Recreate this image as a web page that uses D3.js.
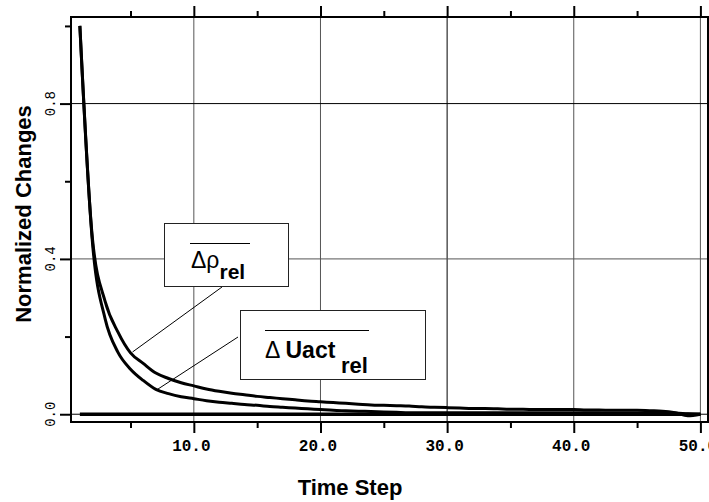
<!DOCTYPE html>
<html>
<head>
<meta charset="utf-8">
<script src="https://cdn.jsdelivr.net/npm/d3@7"></script>
<style>
  html, body { margin: 0; padding: 0; background: #fff; }
  svg { display: block; }
</style>
</head>
<body>
<div id="chart"></div>
<script>
// ── Data ─────────────────────────────────────────────────────
const timeSteps = [1, 2, 3, 4, 5, 6, 7, 8, 9, 10,
                   11, 12, 13, 14, 15, 16, 17, 18, 19, 20,
                   21, 22, 23, 24, 25, 26, 27, 28, 29, 30,
                   31, 32, 33, 34, 35, 36, 37, 38, 39, 40,
                   41, 42, 43, 44, 45, 46, 47, 48, 49, 50];

// mean relative change of density
const rhoRel = [1.000, 0.450, 0.290, 0.212, 0.158, 0.131, 0.106, 0.092, 0.081, 0.073,
                0.065, 0.059, 0.054, 0.050, 0.046, 0.043, 0.040, 0.037, 0.034, 0.032,
                0.030, 0.028, 0.026, 0.024, 0.023, 0.022, 0.021, 0.019, 0.018, 0.017,
                0.016, 0.015, 0.015, 0.014, 0.013, 0.013, 0.012, 0.012, 0.012, 0.012,
                0.011, 0.011, 0.010, 0.010, 0.010, 0.009, 0.008, 0.004, -0.004, 0.000];

// mean relative change of Uact
const uactRel = [1.000, 0.440, 0.245, 0.160, 0.116, 0.087, 0.064, 0.053, 0.045, 0.040,
                 0.035, 0.031, 0.028, 0.025, 0.023, 0.020, 0.018, 0.016, 0.014, 0.012,
                 0.010, 0.009, 0.008, 0.007, 0.006, 0.005, 0.004, 0.004, 0.004, 0.004,
                 0.004, 0.004, 0.004, 0.004, 0.004, 0.004, 0.004, 0.004, 0.004, 0.004,
                 0.004, 0.004, 0.003, 0.003, 0.003, 0.003, 0.003, 0.003, 0.001, 0.000];

// flat baseline series
const baseRel = [0, 0, 0, 0, 0, 0, 0, 0, 0, 0,
                 0, 0, 0, 0, 0, 0, 0, 0, 0, 0,
                 0, 0, 0, 0, 0, 0, 0, 0, 0, 0,
                 0, 0, 0, 0, 0, 0, 0, 0, 0, 0,
                 0, 0, 0, 0, 0, 0, 0, 0, 0, 0];

const xMajorTicks = [10, 20, 30, 40, 50];
const xMinorTicks = [5, 15, 25, 35, 45];
const yMajorTicks = [0.0, 0.4, 0.8];
const yMinorTicks = [0.2, 0.6, 1.0];

// ── Layout ───────────────────────────────────────────────────
const W = 709, H = 502;
const frame = { left: 71, top: 17, right: 708, bottom: 422 };

const svg = d3.select("#chart").append("svg")
  .attr("width", W).attr("height", H)
  .attr("viewBox", `0 0 ${W} ${H}`);

const x = d3.scaleLinear().domain([0.3, 50.6]).range([frame.left, frame.right]);
const y = d3.scaleLinear().domain([-0.02, 1.023]).range([frame.bottom, frame.top]);

// ── Grid lines ───────────────────────────────────────────────
const grid = svg.append("g").attr("class", "grid");
grid.selectAll("line.vx").data(xMajorTicks).enter().append("line")
  .attr("x1", d => x(d)).attr("x2", d => x(d))
  .attr("y1", frame.top).attr("y2", frame.bottom)
  .attr("stroke", d => d === 30 ? "#000" : "#555").attr("stroke-width", 1);
grid.selectAll("line.hy").data(yMajorTicks).enter().append("line")
  .attr("x1", frame.left).attr("x2", frame.right)
  .attr("y1", d => y(d)).attr("y2", d => y(d))
  .attr("stroke", d => d === 0.4 ? "#555" : "#000").attr("stroke-width", 1);

// ── Axes (ticks outward, no domain path) ─────────────────────
const mono = "'Liberation Mono', 'DejaVu Sans Mono', monospace";

function tickAxis(axisFn, scale, vals, size) {
  return axisFn(scale).tickValues(vals).tickSize(size).tickFormat("");
}

const gBottom = svg.append("g").attr("transform", `translate(0,${frame.bottom})`);
gBottom.call(tickAxis(d3.axisBottom, x, xMinorTicks, 6));
gBottom.append("g").call(d3.axisBottom(x).tickValues(xMajorTicks).tickSize(11)
  .tickFormat(d3.format(".1f")));

const gTop = svg.append("g").attr("transform", `translate(0,${frame.top})`);
gTop.call(tickAxis(d3.axisTop, x, xMinorTicks, 6));
gTop.append("g").call(tickAxis(d3.axisTop, x, xMajorTicks, 11));

const gLeft = svg.append("g").attr("transform", `translate(${frame.left},0)`);
gLeft.call(tickAxis(d3.axisLeft, y, yMinorTicks, 6));
gLeft.append("g").call(tickAxis(d3.axisLeft, y, yMajorTicks, 11));

svg.selectAll(".domain").remove();
svg.selectAll(".tick line").attr("stroke", "#000").attr("stroke-width", 2);

gBottom.selectAll(".tick text")
  .attr("x", -3).attr("y", 18).attr("dy", "0.71em")
  .attr("font-family", mono).attr("font-size", 16).attr("font-weight", "bold")
  .attr("fill", "#000");

// y tick labels, rotated
gLeft.selectAll("text.ylab").data(yMajorTicks).enter().append("text")
  .attr("class", "ylab")
  .attr("transform", d => `translate(-16,${y(d)}) rotate(-90)`)
  .attr("text-anchor", "middle")
  .attr("fill", "#000")
  .attr("font-family", mono).attr("font-size", 14)
  .text(d3.format(".1f"));

// ── Series lines ─────────────────────────────────────────────
const line = d3.line()
  .x((d, i) => x(timeSteps[i]))
  .y(d => y(d))
  .curve(d3.curveMonotoneX);

svg.append("path").datum(baseRel)
  .attr("d", line).attr("fill", "none")
  .attr("stroke", "#000").attr("stroke-width", 3.5);
svg.append("path").datum(uactRel)
  .attr("d", line).attr("fill", "none")
  .attr("stroke", "#000").attr("stroke-width", 3);
svg.append("path").datum(rhoRel)
  .attr("d", line).attr("fill", "none")
  .attr("stroke", "#000").attr("stroke-width", 3);

// ── Frame ────────────────────────────────────────────────────
svg.append("rect")
  .attr("x", frame.left).attr("y", frame.top)
  .attr("width", frame.right - frame.left).attr("height", frame.bottom - frame.top)
  .attr("fill", "none").attr("stroke", "#000").attr("stroke-width", 2);

// ── Annotation boxes with leader lines ───────────────────────
const sans = "'Liberation Sans', Arial, Helvetica, sans-serif";
const notes = svg.append("g").attr("class", "notes");

// Δρ_rel
notes.append("line").attr("x1", 222).attr("y1", 287).attr("x2", 132.5).attr("y2", 352)
  .attr("stroke", "#000").attr("stroke-width", 1);
notes.append("rect").attr("x", 164.5).attr("y", 223.5).attr("width", 124).attr("height", 63)
  .attr("fill", "#fff").attr("stroke", "#222").attr("stroke-width", 1);
notes.append("line").attr("x1", 190).attr("x2", 250).attr("y1", 243.5).attr("y2", 243.5)
  .attr("stroke", "#000").attr("stroke-width", 1);
const t1 = notes.append("text").attr("x", 191).attr("y", 268)
  .attr("font-family", sans).attr("font-size", 23);
t1.append("tspan").text("Δρ");
t1.append("tspan").attr("dy", 11).attr("font-size", 21).attr("font-weight", "bold").text("rel");

// Δ Uact_rel
notes.append("line").attr("x1", 238).attr("y1", 337).attr("x2", 156.5).attr("y2", 390)
  .attr("stroke", "#000").attr("stroke-width", 1);
notes.append("rect").attr("x", 240.5).attr("y", 310.5).attr("width", 185).attr("height", 69)
  .attr("fill", "#fff").attr("stroke", "#222").attr("stroke-width", 1);
notes.append("line").attr("x1", 265).attr("x2", 369).attr("y1", 330.5).attr("y2", 330.5)
  .attr("stroke", "#000").attr("stroke-width", 1);
const t2 = notes.append("text").attr("x", 265).attr("y", 358)
  .attr("font-family", sans).attr("font-size", 23);
t2.append("tspan").text("Δ ");
t2.append("tspan").attr("font-weight", "bold").text("Uact");
t2.append("tspan").attr("x", 341).attr("y", 372.5).attr("font-size", 22)
  .attr("font-weight", "bold").text("rel");

// ── Axis titles ──────────────────────────────────────────────
svg.append("text")
  .attr("x", 350).attr("y", 495)
  .attr("text-anchor", "middle")
  .attr("font-family", sans).attr("font-size", 22).attr("font-weight", "bold")
  .text("Time Step");

svg.append("text")
  .attr("transform", "translate(31,214) rotate(-90)")
  .attr("text-anchor", "middle")
  .attr("font-family", sans).attr("font-size", 22).attr("font-weight", "bold")
  .text("Normalized Changes");
</script>
</body>
</html>
